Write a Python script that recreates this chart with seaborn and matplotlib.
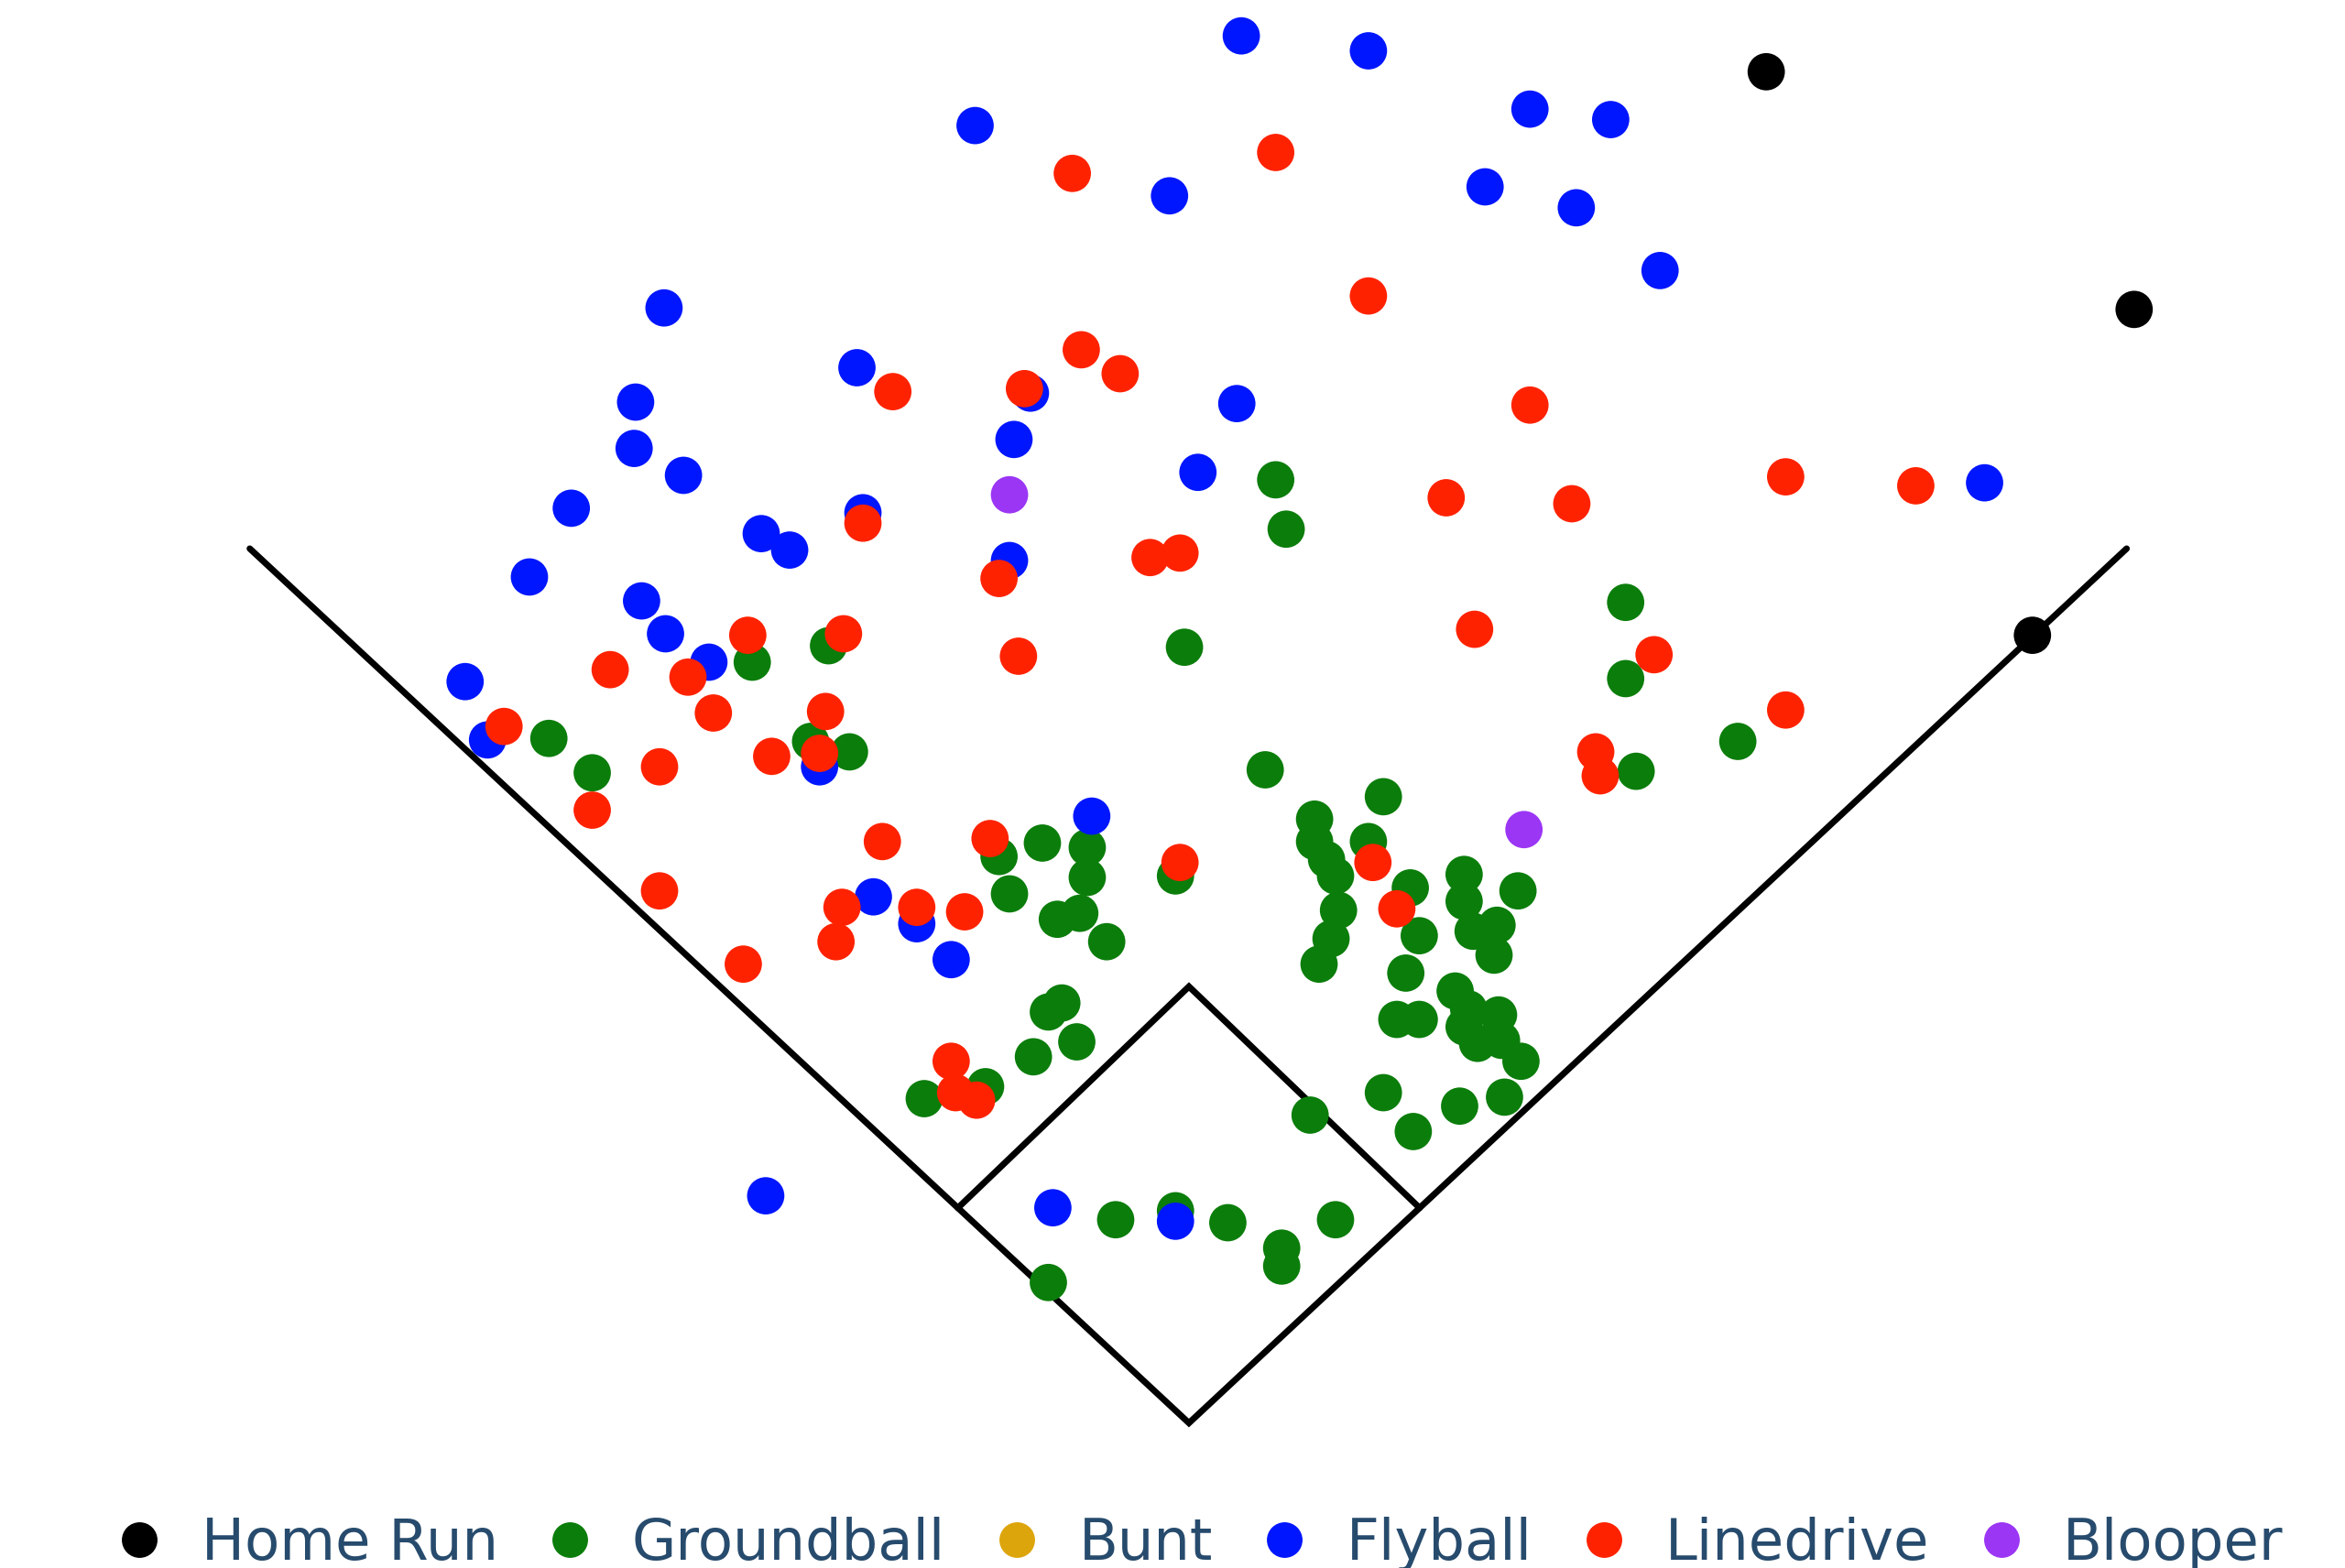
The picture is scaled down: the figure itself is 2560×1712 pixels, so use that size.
import matplotlib
matplotlib.use("Agg")
import matplotlib.pyplot as plt
from matplotlib.lines import Line2D
import seaborn as sns
import pandas as pd

# ---- data (spray-chart coordinates) ----
categories = ["Home Run", "Groundball", "Bunt", "Flyball", "Linedrive", "Blooper"]
colors = ["#000000", "#0b7d0b", "#DDA50C", "#0016ff", "#ff2200", "#9b36f5"]

homerun_x = [1181, 1427, 1359]
homerun_y = [48, 207, 425]

groundball_x = [853, 860, 792, 503, 554, 367, 396, 542, 568, 1087, 1087, 1162, 1094, 846, 925,
                668, 697, 727, 727, 722, 707, 675, 740, 786, 879, 879, 887, 893, 895, 890, 882,
                915, 943, 949, 940, 934, 949, 925, 945, 976, 1006, 876, 979, 979, 1015, 1001,
                985, 999, 973, 982, 1002, 979, 988, 1004, 1017, 710, 701, 720, 691, 618, 659,
                746, 786, 821, 857, 857, 893, 701]
groundball_y = [321, 354, 433, 443, 432, 494, 517, 496, 503, 403, 454, 496, 516, 515, 533,
                573, 564, 567, 587, 611, 615, 598, 630, 586, 548, 563, 575, 586, 609, 628, 645,
                563, 594, 626, 651, 682, 682, 731, 757, 740, 734, 746, 585, 603, 596, 619,
                623, 639, 663, 675, 679, 687, 698, 696, 710, 671, 677, 697, 707, 735, 727,
                816, 810, 818, 835, 847, 816, 858]

bunt_x = []
bunt_y = []

flyball_x = [830, 915, 652, 1023, 1077, 782, 993, 1054, 1110, 444, 573, 689, 425, 827, 678,
             424, 457, 801, 382, 577, 1327, 509, 528, 675, 354, 429, 445, 474, 311, 326,
             548, 730, 584, 613, 636, 512, 704, 786]
flyball_y = [24, 34, 84, 73, 80, 131, 125, 139, 181, 206, 246, 263, 269, 270, 294,
             300, 318, 316, 340, 343, 323, 357, 368, 375, 386, 402, 424, 443, 456, 495,
             513, 546, 600, 618, 642, 800, 808, 817]

linedrive_x = [717, 853, 915, 723, 749, 685, 597, 1023, 577, 967, 1051, 1194, 1281, 668, 769,
               789, 681, 986, 1106, 1194, 1067, 1070, 500, 564, 408, 460, 337, 477, 552, 441,
               516, 548, 396, 441, 497, 590, 662, 563, 559, 613, 645, 789, 918, 934, 636,
               639, 653]
linedrive_y = [116, 102, 198, 234, 250, 260, 262, 271, 350, 333, 337, 319, 325, 387, 373,
               370, 439, 421, 438, 475, 503, 519, 425, 424, 448, 453, 486, 477, 476, 513,
               506, 504, 542, 596, 645, 563, 561, 607, 630, 607, 610, 577, 577, 608, 710,
               731, 736]

blooper_x = [675, 1019]
blooper_y = [331, 555]

# ---- build table (draw order: ground, fly, line, blooper, HR) ----
series = [("Groundball", groundball_x, groundball_y),
          ("Bunt", bunt_x, bunt_y),
          ("Flyball", flyball_x, flyball_y),
          ("Linedrive", linedrive_x, linedrive_y),
          ("Blooper", blooper_x, blooper_y),
          ("Home Run", homerun_x, homerun_y)]
frames = [pd.DataFrame({"x": xs, "y": ys, "type": name}) for name, xs, ys in series if len(xs)]
df = pd.concat(frames, ignore_index=True)
palette = dict(zip(categories, colors))

# ---- field geometry ----
HOME = (795, 952)
LEFT_POLE = (167, 367)
RIGHT_POLE = (1422, 367)
SECOND = (795, 660)
BASE_FRAC = 0.246

third = (HOME[0] + BASE_FRAC * (LEFT_POLE[0] - HOME[0]), HOME[1] + BASE_FRAC * (LEFT_POLE[1] - HOME[1]))
first = (HOME[0] + BASE_FRAC * (RIGHT_POLE[0] - HOME[0]), HOME[1] + BASE_FRAC * (RIGHT_POLE[1] - HOME[1]))

sns.set_style("white")
plt.rcParams['font.family'] = ['DejaVu Sans']

fig = plt.figure(figsize=(25.6, 17.12), dpi=100)
ax = fig.add_axes([0, 0, 1, 1])

ax.plot([LEFT_POLE[0], HOME[0], RIGHT_POLE[0]], [LEFT_POLE[1], HOME[1], RIGHT_POLE[1]],
        color="black", lw=5, solid_joinstyle="miter", zorder=1)
ax.plot([third[0], SECOND[0], first[0]], [third[1], SECOND[1], first[1]],
        color="black", lw=5, solid_joinstyle="miter", zorder=1)

sns.scatterplot(data=df, x="x", y="y", hue="type", hue_order=categories, palette=palette,
                s=860, linewidth=0, legend=False, ax=ax, zorder=3)

ax.set_xlim(0, 1568)
ax.set_ylim(1049, 0)
ax.axis("off")

handles = [Line2D([0], [0], marker="o", linestyle="none", markersize=28,
                  markerfacecolor=palette[c], markeredgewidth=0) for c in categories]
fig.legend(handles, categories, loc="center", bbox_to_anchor=(0.513, 0.015), ncol=6,
           frameon=False, fontsize=45, handlelength=0.6, handletextpad=0.78,
           columnspacing=0.95, borderpad=0, labelcolor="#274b6d")

fig.savefig("out.png", dpi=100, facecolor="white")
